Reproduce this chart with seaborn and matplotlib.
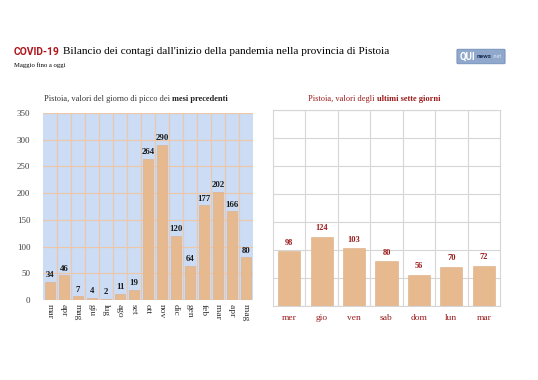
import numpy as np
import pandas as pd
import matplotlib.pyplot as plt
import seaborn as sns
from matplotlib.patches import FancyBboxPatch

# --- data ---
mesi = ["mar", "apr", "mag", "giu", "lug", "ago", "set", "ott", "nov",
        "dic", "gen", "feb", "mar ", "apr ", "mag "]
picchi = [34, 46, 7, 4, 2, 11, 19, 264, 290, 120, 64, 177, 202, 166, 80]

giorni = ["mer", "gio", "ven", "sab", "dom", "lun", "mar"]
ultimi = [98, 124, 103, 80, 56, 70, 72]

BAR = "#e6b98f"
DARKRED = "#9b1b1b"
SERIF = "Liberation Serif"

sns.set_theme(style="white")
plt.rcParams["font.family"] = [SERIF, "DejaVu Serif"]

fig = plt.figure(figsize=(5.38, 3.8), dpi=100)
W, H = 538, 380


def box(x0, y0, x1, y1):
    return [x0 / W, 1 - y1 / H, (x1 - x0) / W, (y1 - y0) / H]


# --- titles ---
fig.text(14 / W, 1 - 52 / H, "COVID-19", family="Roboto", weight="bold",
         color="#b0141c", fontsize=7.4, va="center")
fig.text(63 / W, 1 - 52 / H,
         "Bilancio dei contagi dall'inizio della pandemia nella provincia di Pistoia",
         fontsize=8.1, color="black", va="center")
fig.text(14 / W, 1 - 65 / H, "Maggio fino a oggi", fontsize=4.8, color="black", va="center")

# logo
fig.patches.append(FancyBboxPatch((458 / W, 1 - 63 / H), 46 / W, 13 / H,
                                  boxstyle="round,pad=0.002", fc="#8fa8cc", ec="#6f8db8",
                                  lw=0.6, transform=fig.transFigure, figure=fig))
fig.text(460 / W, 1 - 56.5 / H, "QUI", family="Roboto", weight="bold", fontsize=7,
         color="white", va="center")
fig.text(477 / W, 1 - 57 / H, "news", family="Roboto", weight="bold", fontsize=4.6,
         color="#1d2f55", va="center")
fig.text(493 / W, 1 - 57 / H, ".net", family="Roboto", fontsize=4, color="#dde6f3",
         va="center")

fig.text(172 / W, 1 - 99 / H, "Pistoia, valori del giorno di picco dei ", fontsize=6,
         color="#333333", ha="right", va="center")
fig.text(172 / W, 1 - 99 / H, "mesi precedenti", fontsize=6, weight="bold",
         color="#222222", ha="left", va="center")
fig.text(377 / W, 1 - 99 / H, "Pistoia, valori degli ", fontsize=6,
         color=DARKRED, ha="right", va="center")
fig.text(377 / W, 1 - 99 / H, "ultimi sette giorni", fontsize=6, weight="bold",
         color=DARKRED, ha="left", va="center")

# --- left chart ---
ax1 = fig.add_axes(box(43, 113, 253, 300))
df1 = pd.DataFrame({"mese": mesi, "valore": picchi})
sns.barplot(data=df1, x="mese", y="valore", color=BAR, saturation=1, width=0.78,
            edgecolor="#dcae86", linewidth=0.4, ax=ax1)
ax1.set_facecolor("#cbdcf4")
ax1.set_ylim(0, 350)
ax1.set_xlim(-0.5, len(mesi) - 0.5)
ax1.set_yticks(range(0, 351, 50))
ax1.set_xticks(np.arange(0.5, len(mesi) - 0.5), minor=True)
ax1.grid(True, axis="y", color="#efc6a6", lw=0.8)
ax1.grid(True, axis="x", which="minor", color="#efc6a6", lw=0.8)
ax1.set_axisbelow(True)
for s in ax1.spines.values():
    s.set_visible(False)
ax1.set_xlabel("")
ax1.set_ylabel("")
ax1.tick_params(axis="x", which="both", length=0, labelsize=6.8, rotation=-90, pad=3,
                labelcolor="#333333")
ax1.tick_params(axis="y", length=0, labelsize=6.5, labelcolor="#444444", pad=9)
for i, v in enumerate(picchi):
    ax1.text(i, v + 5, str(v), ha="center", va="bottom", fontsize=6.3,
             weight="bold", color="#1a1a1a")

# --- right chart ---
ax2 = fig.add_axes(box(273, 110, 500, 306))
df2 = pd.DataFrame({"giorno": giorni, "valore": ultimi})
sns.barplot(data=df2, x="giorno", y="valore", color=BAR, saturation=1, width=0.68,
            edgecolor="#dcae86", linewidth=0.4, ax=ax2)
ax2.set_facecolor("white")
ax2.set_ylim(0, 350)
ax2.set_xlim(-0.5, len(giorni) - 0.5)
ax2.set_yticks(range(0, 351, 50))
ax2.set_xticks(np.arange(0.5, len(giorni) - 0.5), minor=True)
ax2.grid(True, axis="y", color="#d6d6d6", lw=0.8)
ax2.grid(True, axis="x", which="minor", color="#d6d6d6", lw=0.8)
ax2.set_axisbelow(True)
for s in ax2.spines.values():
    s.set_color("#d6d6d6")
    s.set_linewidth(0.8)
ax2.set_xlabel("")
ax2.set_ylabel("")
ax2.set_yticklabels([])
ax2.tick_params(axis="y", length=0)
ax2.tick_params(axis="x", which="both", length=0, labelsize=6.8, labelcolor=DARKRED, pad=6)
for i, v in enumerate(ultimi):
    ax2.text(i, v + 8, str(v), ha="center", va="bottom", fontsize=6,
             weight="bold", color=DARKRED)

fig.savefig("out.png", dpi=100, facecolor="white")
